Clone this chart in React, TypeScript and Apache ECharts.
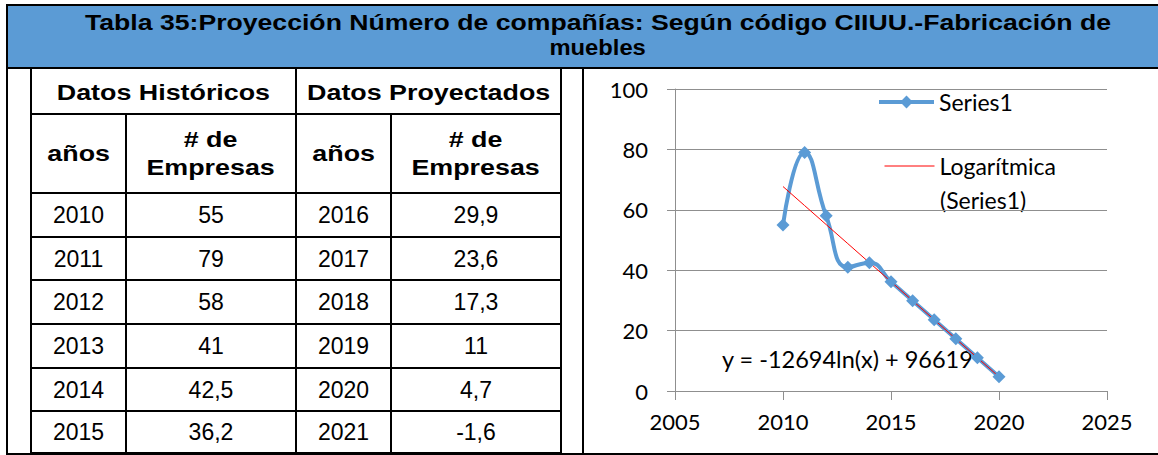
import React, { useEffect, useRef } from "react";
import * as echarts from "echarts";

// ---------- data ----------
const titleLines = [
  "Tabla 35:Proyección Número de compañías: Según código CIIUU.-Fabricación de",
  "muebles",
];
const headerGroups = ["Datos Históricos", "Datos Proyectados"];
const headerCols = ["años", "# de\nEmpresas", "años", "# de\nEmpresas"];
const histYears = [2010, 2011, 2012, 2013, 2014, 2015];
const histCompanies = [55, 79, 58, 41, 42.5, 36.2];
const projYears = [2016, 2017, 2018, 2019, 2020, 2021];
const projCompanies = [29.9, 23.6, 17.3, 11, 4.7, -1.6];
const chartLastYear = 2020;
const trendValues = [67.7, 61.4, 55.1, 48.8, 42.5, 36.2, 29.9, 23.6, 17.3, 11.0, 4.7];
const xTicks = { min: 2005, max: 2025, interval: 5 };
const yTicks = { min: 0, max: 100, interval: 20 };
const seriesName = "Series1";
const trendName = "Logarítmica (Series1)";
const trendLegendLines = ["Logarítmica", "(Series1)"];
const equation = "y = -12694ln(x) + 96619";

// ---------- layout ----------
const BLUE = "#5b9bd5";
const GRID = "#8f8f8f";
const TABLE_FONT = "'Liberation Sans', Arial, sans-serif";
const CHART_FONT = "Lato, 'Open Sans', sans-serif";
const BOLD_SX = 1.22;
const TITLE_SX = [1.21, 1.08];
const colX = [30, 125, 295, 390, 560];
const rowY = [69, 113, 192, 236, 279, 323, 367, 410, 452];

const fmt = (v: number) => String(v).replace(".", ",");

function Line({ x, y, w, h }: { x: number; y: number; w: number; h: number }) {
  return <div style={{ position: "absolute", left: x, top: y, width: w, height: h, background: "#000" }} />;
}

function Cell({ x0, x1, y0, y1, text, bold, padTop = 0 }: any) {
  return (
    <div
      style={{
        position: "absolute",
        left: x0,
        top: y0 + padTop,
        width: x1 - x0,
        height: y1 - y0 - padTop,
        display: "flex",
        alignItems: "center",
        justifyContent: "center",
        textAlign: "center",
      }}
    >
      <span
        style={{
          display: "inline-block",
          transform: `scaleX(${bold ? BOLD_SX : 1})`,
          fontFamily: TABLE_FONT,
          fontWeight: bold ? 700 : 400,
          fontSize: bold ? 22 : 23,
          lineHeight: "28px",
          whiteSpace: "pre",
          color: "#000",
        }}
      >
        {text}
      </span>
    </div>
  );
}

function Chart() {
  const ref = useRef<HTMLDivElement>(null);
  useEffect(() => {
    if (!ref.current) return;
    const chart = echarts.init(ref.current, undefined, { renderer: "svg" });
    const years = histYears.concat(projYears);
    const vals = histCompanies.concat(projCompanies);
    const seriesData = years.map((y, i) => [y, vals[i]]).filter((p) => p[0] <= chartLastYear);
    const trendData = seriesData.map((p, i) => [p[0], trendValues[i]]);
    const labelStyle = { color: "#000", fontSize: 22, fontFamily: CHART_FONT };
    const legendText = { fontSize: 23, color: "#000", fontFamily: CHART_FONT, lineHeight: 28 };
    chart.setOption({
      animation: false,
      textStyle: { fontFamily: CHART_FONT },
      grid: { left: 91, right: 51, top: 20, bottom: 62 },
      xAxis: {
        type: "value",
        min: xTicks.min,
        max: xTicks.max,
        interval: xTicks.interval,
        axisLine: { show: true, onZero: false, lineStyle: { color: GRID, width: 1 } },
        axisTick: { show: true, length: 9, lineStyle: { color: GRID } },
        splitLine: { show: false },
        axisLabel: { ...labelStyle, margin: 19, formatter: (v: number) => String(v) },
      },
      yAxis: {
        type: "value",
        min: yTicks.min,
        max: yTicks.max,
        interval: yTicks.interval,
        axisLine: { show: true, lineStyle: { color: GRID, width: 1 } },
        axisTick: { show: true, length: 8, lineStyle: { color: GRID } },
        splitLine: { show: true, lineStyle: { color: GRID, width: 1 } },
        axisLabel: { ...labelStyle, margin: 27, formatter: (v: number) => String(v) },
      },
      legend: [
        {
          data: [seriesName],
          left: 288,
          top: 14,
          itemWidth: 55,
          itemHeight: 16,
          selectedMode: false,
          lineStyle: { width: 4 },
          textStyle: legendText,
        },
        {
          data: [trendName],
          left: 295,
          top: 78,
          itemWidth: 50,
          itemHeight: 16,
          selectedMode: false,
          lineStyle: { width: 1 },
          itemStyle: { opacity: 0, color: "transparent", borderWidth: 0 },
          formatter: () => trendLegendLines[0],
          textStyle: legendText,
        },
      ],
      graphic: [
        {
          type: "text",
          x: 356,
          y: 131,
          style: { text: trendLegendLines[1], fontSize: 23, fontFamily: CHART_FONT, fill: "#000", verticalAlign: "middle" },
        },
        {
          type: "text",
          x: 138,
          y: 290,
          style: { text: equation, fontSize: 23.5, fontFamily: CHART_FONT, fill: "#000", verticalAlign: "middle" },
        },
      ],
      series: [
        {
          name: seriesName,
          type: "line",
          data: seriesData,
          smooth: 0.5,
          symbol: "diamond",
          symbolSize: 13,
          lineStyle: { color: BLUE, width: 4 },
          itemStyle: { color: BLUE },
        },
        {
          name: trendName,
          type: "line",
          data: trendData,
          symbol: "none",
          lineStyle: { color: "#ff0000", width: 1 },
          itemStyle: { color: "#ff0000" },
        },
      ],
    });
    return () => chart.dispose();
  }, []);
  return <div ref={ref} style={{ position: "absolute", left: 584, top: 69, width: 574, height: 384, background: "#fff" }} />;
}

export default function App() {
  const lines: any[] = [];
  // outer frame
  lines.push(<Line key="oL" x={6} y={4} w={2} h={451} />);
  lines.push(<Line key="oT" x={6} y={4} w={1200} h={2} />);
  lines.push(<Line key="oTB" x={6} y={67} w={1200} h={2} />);
  lines.push(<Line key="oB" x={6} y={453} w={1200} h={2} />);
  lines.push(<Line key="oD" x={582} y={69} w={2} h={384} />);
  // table verticals
  colX.forEach((x, i) => {
    const top = i === 1 || i === 3 ? rowY[1] : rowY[0];
    lines.push(<Line key={"v" + i} x={x} y={top} w={2} h={rowY[rowY.length - 1] - top + 2} />);
  });
  // table horizontals
  rowY.slice(1).forEach((y, i) => {
    lines.push(<Line key={"h" + i} x={colX[0]} y={y} w={colX[4] - colX[0] + 2} h={2} />);
  });

  const cells: any[] = [];
  headerGroups.forEach((t, g) => {
    cells.push(<Cell key={"g" + g} x0={colX[2 * g] + 2} x1={colX[2 * g + 2]} y0={rowY[0]} y1={rowY[1]} text={t} bold padTop={4} />);
  });
  headerCols.forEach((t, c) => {
    cells.push(<Cell key={"c" + c} x0={colX[c] + 2} x1={colX[c + 1]} y0={rowY[1] + 2} y1={rowY[2]} text={t} bold />);
  });
  histYears.forEach((yr, r) => {
    const y0 = rowY[r + 2] + 2;
    const y1 = rowY[r + 3];
    cells.push(<Cell key={"a" + r} x0={colX[0] + 2} x1={colX[1]} y0={y0} y1={y1} text={String(yr)} />);
    cells.push(<Cell key={"b" + r} x0={colX[1] + 2} x1={colX[2]} y0={y0} y1={y1} text={fmt(histCompanies[r])} />);
    cells.push(<Cell key={"c2" + r} x0={colX[2] + 2} x1={colX[3]} y0={y0} y1={y1} text={String(projYears[r])} />);
    cells.push(<Cell key={"d" + r} x0={colX[3] + 2} x1={colX[4]} y0={y0} y1={y1} text={fmt(projCompanies[r])} />);
  });

  return (
    <div style={{ position: "fixed", left: 0, top: 0, width: 1158, height: 455, overflow: "hidden", background: "#fff" }}>
      <div style={{ position: "absolute", left: 8, top: 6, width: 1180, height: 61, background: BLUE }}>
        <div style={{ paddingTop: 4, textAlign: "center" }}>
          {titleLines.map((t, i) => (
            <div key={i} style={{ height: 25, lineHeight: "25px" }}>
              <span
                style={{
                  display: "inline-block",
                  transform: `scaleX(${TITLE_SX[i]})`,
                  fontFamily: TABLE_FONT,
                  fontWeight: 700,
                  fontSize: 22,
                  color: "#000",
                  whiteSpace: "pre",
                }}
              >
                {t}
              </span>
            </div>
          ))}
        </div>
      </div>
      <Chart />
      {cells}
      {lines}
    </div>
  );
}
